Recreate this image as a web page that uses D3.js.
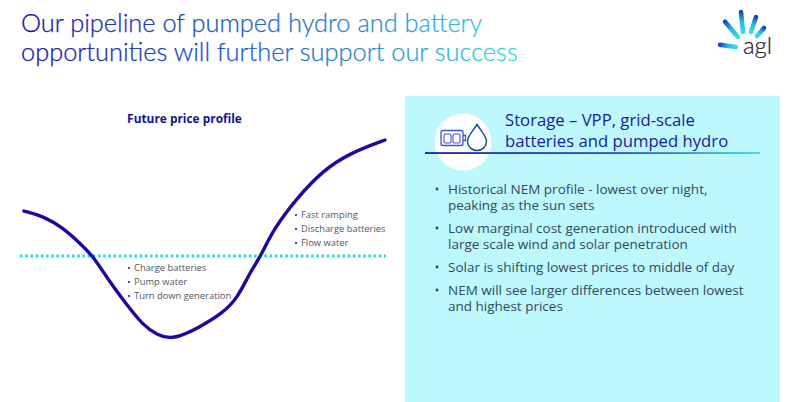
<!DOCTYPE html>
<html>
<head>
<meta charset="utf-8">
<script src="https://cdn.jsdelivr.net/npm/d3@7"></script>
<style>
  html, body { margin: 0; padding: 0; background: #fff; }
  svg { display: block; }
  text { font-family: "Open Sans", sans-serif; }
</style>
</head>
<body>
<div id="chart"></div>
<script>
const titleLines = ["Our pipeline of pumped hydro and battery", "opportunities will further support our success"]
const chartTitle = "Future price profile"
const panelTitle = ["Storage \u2013 VPP, grid-scale", "batteries and pumped hydro"]

// hour of day vs relative price
const hours = [0, 1.26, 2.6, 3.7, 4.6, 5.7, 6.85, 7.9, 8.85, 9.9, 11.7, 13.2, 14.2, 15, 15.75, 16.55, 18.15, 19.9, 21.7, 24]
const prices = [64.3, 61.8, 55.8, 48.2, 41.7, 28.6, 17.1, 7, 2, -0.5, 6, 13, 20.6, 33.2, 41.7, 54.8, 70.9, 84.9, 93.5, 100]
const averagePrice = 41.7

const lowLabels = ["Charge batteries", "Pump water", "Turn down generation"]
const highLabels = ["Fast ramping", "Discharge batteries", "Flow water"]
const panelBullets = [
  ["Historical NEM profile - lowest over night,", "peaking as the sun sets"],
  ["Low marginal cost generation introduced with", "large scale wind and solar penetration"],
  ["Solar is shifting lowest prices to middle of day"],
  ["NEM will see larger differences between lowest", "and highest prices"]
]

const width = 800
const height = 402
const navy = "#1a0f9c"
const cyan = "#1fdde0"
const grey = "#55575f"

const svg = d3.select("#chart").append("svg")
    .attr("width", width)
    .attr("height", height)
    .style("background", "#fff")

const defs = svg.append("defs")

function addGradient(id, x1, x2, stops) {
  const g = defs.append("linearGradient")
      .attr("id", id)
      .attr("gradientUnits", "userSpaceOnUse")
      .attr("x1", x1).attr("x2", x2)
      .attr("y1", 0).attr("y2", 0)
  stops.forEach(s => g.append("stop").attr("offset", s[0]).attr("stop-color", s[1]))
}
addGradient("titleGrad", 21, 518, [[0, "#1a14a4"], [0.35, "#1c4cc0"], [0.72, "#2a8ed2"], [1, "#2fdcea"]])
addGradient("ruleGrad", 425, 760, [[0, "#14109a"], [0.6, "#1a50c0"], [1, "#20e0e6"]])

// title
svg.selectAll(".title")
    .data(titleLines)
    .join("text")
    .attr("class", "title")
    .attr("x", 21)
    .attr("y", (d, i) => 32 + i * 29)
    .attr("fill", "url(#titleGrad)")
    .style("font-family", "Lato")
    .style("font-weight", 300)
    .style("font-size", "25.4px")
    .style("stroke", "url(#titleGrad)")
    .style("stroke-width", 0.25)
    .text(d => d)

// logo
const rays = [[720, 44.7, 736, 47], [725, 21.7, 738, 37], [741, 12, 743, 32], [756, 17, 751, 32], [764, 28, 757, 36]]
rays.forEach((r, i) => {
  const g = defs.append("linearGradient")
      .attr("id", "ray" + i)
      .attr("gradientUnits", "userSpaceOnUse")
      .attr("x1", r[0]).attr("y1", r[1])
      .attr("x2", r[2]).attr("y2", r[3])
  g.append("stop").attr("offset", 0).attr("stop-color", "#1746b8")
  g.append("stop").attr("offset", 0.45).attr("stop-color", "#25b4e2")
  g.append("stop").attr("offset", 1).attr("stop-color", "#35dcf0")
  svg.append("line")
      .attr("x1", r[0]).attr("y1", r[1])
      .attr("x2", r[2] + 0.01).attr("y2", r[3] + 0.01)
      .attr("stroke", `url(#ray${i})`)
      .attr("stroke-width", 4.5)
      .attr("stroke-linecap", "round")
})
svg.append("text")
    .attr("x", 743).attr("y", 54)
    .attr("fill", "#1b1b22")
    .style("font-family", "Lato")
    .style("font-weight", 300)
    .style("font-size", "24px")
    .style("stroke", "#1b1b22")
    .style("stroke-width", 0.2)
    .text("agl")

// chart
const x = d3.scaleLinear().domain([0, 24]).range([24, 385])
const y = d3.scaleLinear().domain([0, 100]).range([339, 140])

svg.append("text")
    .attr("x", 184.5).attr("y", 123)
    .attr("text-anchor", "middle")
    .attr("fill", "#14148c")
    .style("font-weight", 700)
    .style("font-size", "11.9px")
    .text(chartTitle)

svg.append("line")
    .attr("x1", 20).attr("x2", 386)
    .attr("y1", y(averagePrice)).attr("y2", y(averagePrice))
    .attr("stroke", cyan)
    .attr("stroke-width", 2.8)
    .attr("stroke-dasharray", "2.6, 2.6")

const line = d3.line()
    .x(d => x(d[0]))
    .y(d => y(d[1]))
    .curve(d3.curveBasis)

svg.append("path")
    .datum(d3.zip(hours, prices))
    .attr("d", line)
    .attr("fill", "none")
    .attr("stroke", "#1c0a9e")
    .attr("stroke-width", 3.4)
    .attr("stroke-linecap", "round")

function bulletList(items, textX, startY, step, size, color) {
  items.forEach((d, i) => {
    svg.append("circle")
        .attr("cx", textX - 5)
        .attr("cy", startY + i * step - size * 0.33)
        .attr("r", 1)
        .attr("fill", navy)
    svg.append("text")
        .attr("x", textX)
        .attr("y", startY + i * step)
        .attr("fill", color)
        .style("font-size", size + "px")
        .text(d)
  })
}
bulletList(lowLabels, 134, 271, 14, 9.4, grey)
bulletList(highLabels, 301, 218, 14, 9.4, grey)

// right panel
svg.append("rect")
    .attr("x", 405).attr("y", 96)
    .attr("width", 375).attr("height", 306)
    .attr("fill", "#bdf8fc")

svg.append("circle")
    .attr("cx", 463).attr("cy", 142).attr("r", 28.5)
    .attr("fill", "#fff")

// battery icon
svg.append("rect")
    .attr("x", 441).attr("y", 130.5)
    .attr("width", 22).attr("height", 15).attr("rx", 2)
    .attr("fill", "none").attr("stroke", "#3a58c8").attr("stroke-width", 1.3)
svg.append("path")
    .attr("d", "M463 135.5h2.5v5H463")
    .attr("fill", "none").attr("stroke", "#3a58c8").attr("stroke-width", 1.3)
;[444, 453].forEach(bx => {
  svg.append("rect")
      .attr("x", bx).attr("y", 134)
      .attr("width", 7).attr("height", 9).attr("rx", 1.5)
      .attr("fill", "none").attr("stroke", "#4a50c8").attr("stroke-width", 1.1)
})
// drop icon
svg.append("path")
    .attr("d", "M477 124.5C473 131 467.5 136 467.5 141.5a9.5 9 0 0 0 19 0C486.5 136 481 131 477 124.5Z")
    .attr("fill", "none").attr("stroke", "#16509e").attr("stroke-width", 1.5)

svg.selectAll(".panelTitle")
    .data(panelTitle)
    .join("text")
    .attr("class", "panelTitle")
    .attr("x", 505)
    .attr("y", (d, i) => 126 + i * 21)
    .attr("fill", "#1a1aa0")
    .style("font-size", "16.7px")
    .text(d => d)

svg.append("rect")
    .attr("x", 425).attr("y", 152.2)
    .attr("width", 335).attr("height", 1.7)
    .attr("fill", "url(#ruleGrad)")

let rowY = 193.5
panelBullets.forEach(lines => {
  svg.append("circle")
      .attr("cx", 437).attr("cy", rowY - 4.5).attr("r", 1.4)
      .attr("fill", "#1a3f8c")
  // wrapped bullet stays one text element, lines as tspans
  const bullet = svg.append("text")
      .attr("fill", "#34495c")
      .style("font-size", "13.5px")
  lines.forEach((d, i) => {
    bullet.append("tspan")
        .attr("x", 448)
        .attr("y", rowY + i * 16)
        .text(d)
  })
  rowY += lines.length * 16 + 7
})
</script>
</body>
</html>
